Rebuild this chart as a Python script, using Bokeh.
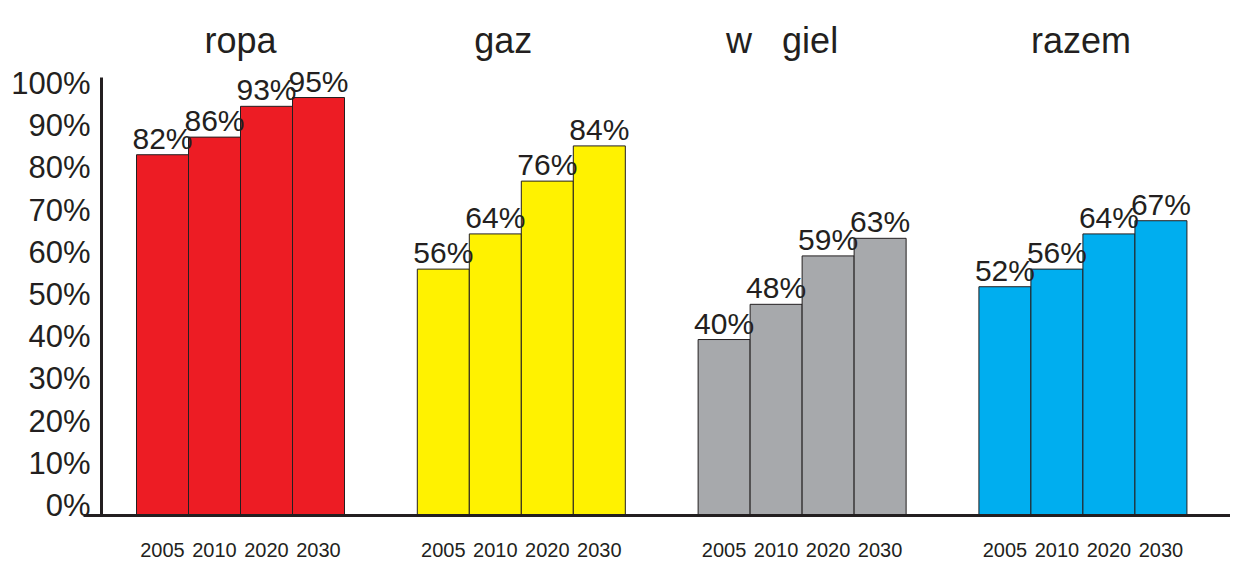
from bokeh.plotting import figure
from bokeh.models import Range1d, LinearAxis, FixedTicker, ColumnDataSource
from bokeh.core.properties import value
from bokeh.embed import file_html
from bokeh.resources import INLINE

# ---- data ----
groups = ["ropa", "gaz", "w\u00a0\u00a0\u00a0giel", "razem"]
years = ["2005", "2010", "2020", "2030"]
ropa = [82, 86, 93, 95]
gaz = [56, 64, 76, 84]
wegiel = [40, 48, 59, 63]
razem = [52, 56, 64, 67]
series = [ropa, gaz, wegiel, razem]
colors = ["#ed1c24", "#fff200", "#a7a9ac", "#00aeef"]
y_ticks = [0, 10, 20, 30, 40, 50, 60, 70, 80, 90, 100]
y_tick_labels = ["0%", "10%", "20%", "30%", "40%", "50%", "60%", "70%", "80%", "90%", "100%"]

# ---- layout constants (styles / positions) ----
GROUP_STEP = 27   # units between group starts
BAR_W = 5         # bar width in units
TITLE_DX = [0, -18, -20, -2]   # pixel nudges of the group titles
INK = "#231f20"
FONT = "Liberation Sans"

xs, tops, fills, labels = [], [], [], []
for gi, vals in enumerate(series):
    for bj, v in enumerate(vals):
        xs.append(gi * GROUP_STEP + bj * BAR_W)
        tops.append(v)
        fills.append(colors[gi])
        labels.append(f"{v}%")
src = ColumnDataSource(dict(x=xs, top=tops, fill=fills, label=labels))

p = figure(width=1230, height=561, output_backend="svg", toolbar_location=None,
           x_range=Range1d(-15.577, 102.69), y_range=Range1d(-10.45, 117.05),
           x_axis_location=None, y_axis_location=None, min_border=0)
p.extra_y_ranges = {"lab": Range1d(-13.27, 119.67)}
p.outline_line_color = None
p.grid.grid_line_color = None
p.background_fill_color = "white"
p.border_fill_color = "white"

p.vbar(x="x", top="top", bottom=0, width=BAR_W, fill_color="fill",
       line_color=INK, line_width=1, source=src)

p.text(x="x", y="top", text="label", source=src, text_align="center",
       text_baseline="bottom", text_font=value(FONT),
       text_font_size="30px", text_color=INK)

# group titles
gsrc = ColumnDataSource(dict(
    x=[gi * GROUP_STEP + 1.5 * BAR_W for gi in range(len(groups))],
    y=[107.95] * len(groups), t=groups, dx=TITLE_DX))
p.text(x="x", y="y", text="t", x_offset="dx", source=gsrc, text_align="center",
       text_baseline="alphabetic", text_font=value(FONT),
       text_font_size="36px", text_color=INK)

# x axis with year labels under each bar
xaxis = LinearAxis(fixed_location=0, bounds=(-7.596, 102.69),
                   ticker=FixedTicker(ticks=xs),
                   major_label_overrides={x: years[i % 4] for i, x in enumerate(xs)})
xaxis.axis_line_color = INK
xaxis.axis_line_width = 3
xaxis.major_tick_line_color = None
xaxis.minor_tick_line_color = None
xaxis.major_label_standoff = 21
xaxis.major_label_text_font = FONT
xaxis.major_label_text_font_size = "20px"
xaxis.major_label_text_color = INK
p.add_layout(xaxis, "below")

# y axis
yaxis = LinearAxis(y_range_name="lab", fixed_location=-5.865, bounds=(-2.6, 101.4),
                   ticker=FixedTicker(ticks=y_ticks),
                   major_label_overrides={t: l for t, l in zip(y_ticks, y_tick_labels)})
yaxis.axis_line_color = INK
yaxis.axis_line_width = 3
yaxis.major_tick_line_color = None
yaxis.minor_tick_line_color = None
yaxis.major_label_standoff = 5
yaxis.major_label_text_font = FONT
yaxis.major_label_text_font_size = "31px"
yaxis.major_label_text_color = INK
p.add_layout(yaxis, "left")

open("out.html", "w").write(file_html(p, INLINE))
